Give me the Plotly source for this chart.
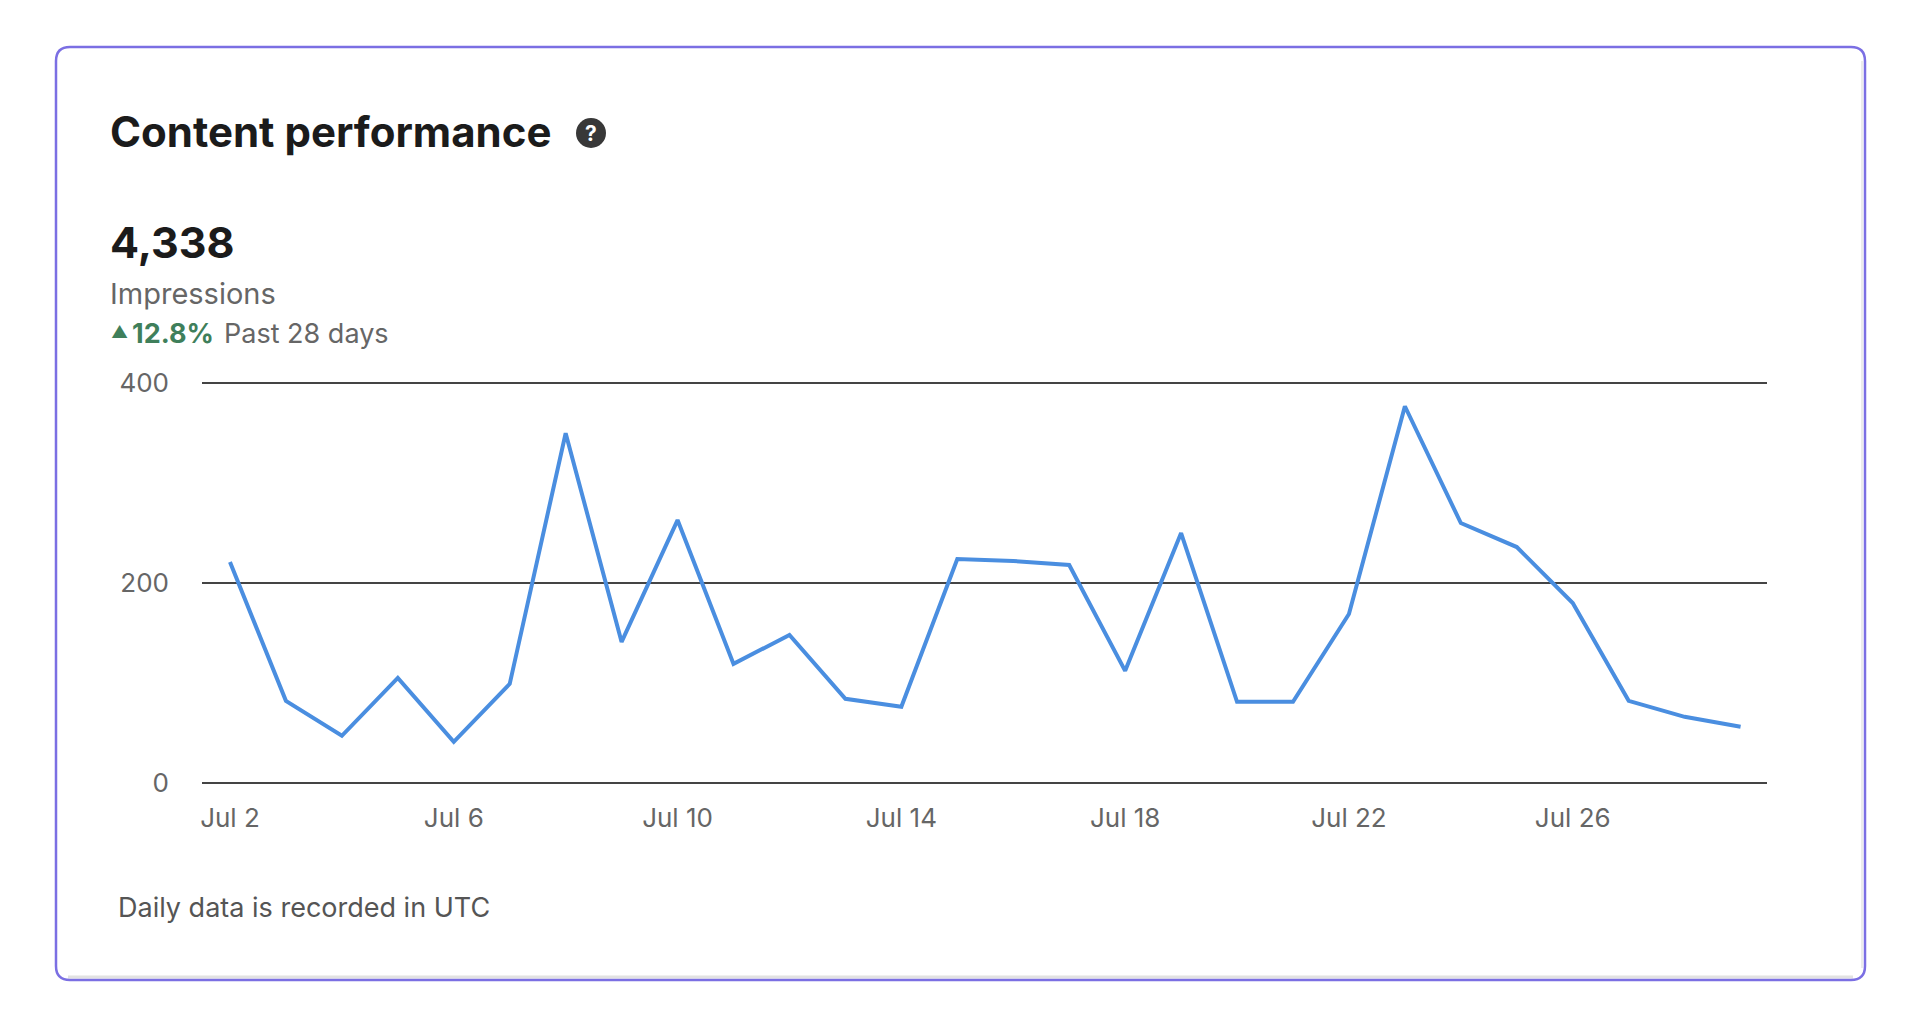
import plotly.graph_objects as go
import pandas as pd

# daily impressions, Jul 2 - Jul 29
days = pd.date_range("2024-07-02", "2024-07-29", freq="D")
impressions = [221, 82, 47, 105, 41, 99, 350, 141, 263, 119, 148, 84, 76, 224,
               222, 218, 112, 250, 81, 81, 169, 377, 260, 236, 180, 82, 66, 56]
y_ticks = [0, 200, 400]

total = "4,338"
change = "12.8%"

# page body has an 8px margin, so the figure is drawn 8px in from the window
OFF = 8
W, H = 1920 - 2 * OFF, 1029 - 2 * OFF
L, R, T, B = 202 - OFF, 1920 - 1767 - OFF, 370 - OFF, 1029 - 790 - OFF
FONT = "Inter, Roboto, sans-serif"


def px(x):
    return (x - OFF - L) / (W - L - R)


def py(y):
    return 1 - (y - OFF - T) / (H - T - B)


fig = go.Figure(go.Scatter(
    x=days, y=impressions, mode="lines",
    line=dict(color="#4a8ee0", width=4),
    hoverinfo="x+y",
))


def note(x, y, text, size, color, anchor="left"):
    fig.add_annotation(x=px(x), y=py(y), xref="paper", yref="paper",
                       text=text, showarrow=False, xanchor=anchor, yanchor="middle",
                       font=dict(family=FONT, size=size, color=color))


note(108, 131, "<b>Content performance</b>", 42, "#1b1b1b")
note(108, 242, "<b>" + total + "</b>", 43, "#1b1b1b")
note(108, 293, "Impressions", 29, "#666666")
note(109, 332, "▲", 17, "#3f7f5b")
note(130, 333, "<b>" + change + "</b>", 27, "#3f7f5b")
note(222, 333, "Past 28 days", 27, "#666666")
note(116, 907, "Daily data is recorded in UTC", 27, "#555555")
note(591, 133, "<b>?</b>", 21, "#ffffff", anchor="center")

# card outline
x0, y0, x1, y1, r = 56, 47, 1865, 980, 14


def pt(x, y):
    return "%f,%f" % (px(x), py(y))


card = ("M " + pt(x0 + r, y0) + " L " + pt(x1 - r, y0) +
        " Q " + pt(x1, y0) + " " + pt(x1, y0 + r) +
        " L " + pt(x1, y1 - r) + " Q " + pt(x1, y1) + " " + pt(x1 - r, y1) +
        " L " + pt(x0 + r, y1) + " Q " + pt(x0, y1) + " " + pt(x0, y1 - r) +
        " L " + pt(x0, y0 + r) + " Q " + pt(x0, y0) + " " + pt(x0 + r, y0) + " Z")

shapes = [
    dict(type="line", xref="paper", yref="paper",
         x0=px(x0 + 12), x1=px(x1 - 12), y0=py(y1 - 3), y1=py(y1 - 3),
         line=dict(color="#e2e2e2", width=3)),
    dict(type="line", xref="paper", yref="paper",
         x0=px(x1 - 3), x1=px(x1 - 3), y0=py(y0 + 14), y1=py(y1 - 12),
         line=dict(color="#ececec", width=2)),
    dict(type="path", xref="paper", yref="paper", path=card,
         line=dict(color="#7b6fe3", width=2.5)),
    dict(type="circle", xref="paper", yref="paper",
         x0=px(576), x1=px(606), y0=py(118), y1=py(148),
         fillcolor="#383838", line=dict(width=0), layer="below"),
]

fig.update_layout(
    width=W, height=H,
    margin=dict(l=L, r=R, t=T, b=B),
    paper_bgcolor="white", plot_bgcolor="white",
    showlegend=False,
    font=dict(family=FONT),
    shapes=shapes,
    xaxis=dict(
        type="date",
        range=["2024-07-01 12:00", "2024-07-29 11:20"],
        tick0="2024-07-02", dtick=4 * 86400000,
        tickformat="%b %-d",
        showgrid=False, zeroline=False, showline=False, ticks="",
        tickfont=dict(size=26, color="#666666"),
        ticklabelstandoff=10,
    ),
    yaxis=dict(
        range=[-7.3, 413.3],
        tickvals=y_ticks,
        showgrid=True, gridcolor="#444444", gridwidth=2,
        zeroline=False, showline=False, ticks="",
        tickfont=dict(size=26, color="#666666"),
        ticklabelstandoff=32,
    ),
)

fig.write_html("out.html")
